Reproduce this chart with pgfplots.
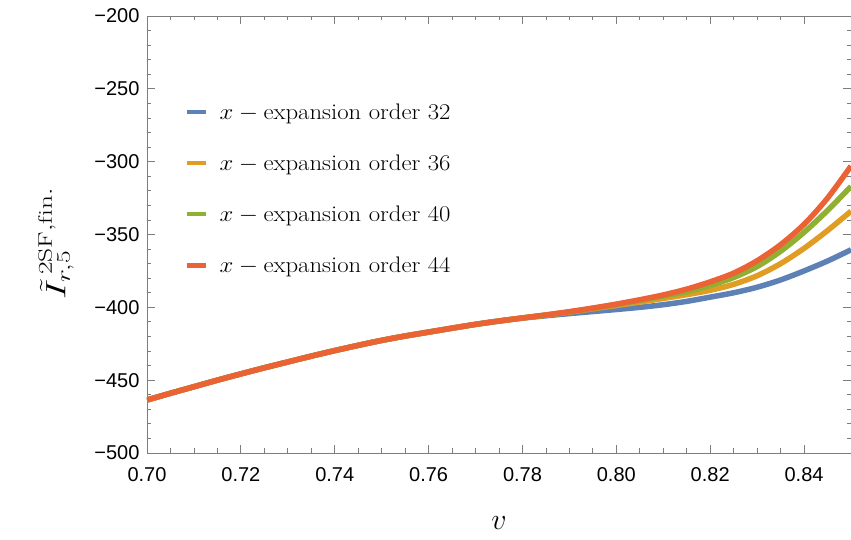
\RequirePackage{fix-cm}
\documentclass[border=0pt]{standalone}
\usepackage{graphicx}
\usepackage{fontspec}
\usepackage{pgfplots}
\usepackage{pgfplotstable}
\pgfplotsset{compat=1.18}
\newfontfamily\tickfont{Liberation Sans}
\definecolor{c1}{RGB}{94,129,181}
\definecolor{c2}{RGB}{225,156,36}
\definecolor{c3}{RGB}{143,176,50}
\definecolor{c4}{RGB}{235,98,53}
\definecolor{framegray}{RGB}{125,125,125}
\newcommand\legtxt[1]{\scalebox{1.1}[1]{$x - \mathrm{expansion\ order\ #1}$}}

\pgfplotstableread{
v y
0.700 -463.6
0.705 -459.0
0.710 -454.5
0.715 -450.0
0.720 -445.7
0.725 -441.5
0.730 -437.5
0.735 -433.5
0.740 -429.7
0.745 -426.1
0.750 -422.7
0.755 -419.7
0.760 -417.0
0.765 -414.3
0.770 -411.7
0.775 -409.4
0.780 -407.4
0.785 -405.8
0.790 -404.3
0.795 -402.9
0.800 -401.5
0.805 -400.0
0.810 -398.2
0.815 -395.9
0.820 -393.0
0.825 -390.0
0.830 -386.2
0.835 -381.2
0.840 -375.0
0.845 -368.2
0.850 -360.5
}\dataA

\pgfplotstableread{
v y
0.700 -463.6
0.705 -459.0
0.710 -454.5
0.715 -450.0
0.720 -445.7
0.725 -441.5
0.730 -437.5
0.735 -433.5
0.740 -429.7
0.745 -426.1
0.750 -422.7
0.755 -419.7
0.760 -417.0
0.765 -414.3
0.770 -411.7
0.775 -409.4
0.780 -407.3
0.785 -405.4
0.790 -403.3
0.795 -401.0
0.800 -398.7
0.805 -396.4
0.810 -393.9
0.815 -391.3
0.820 -388.3
0.825 -384.2
0.830 -378.3
0.835 -370.0
0.840 -359.5
0.845 -347.3
0.850 -334.0
}\dataB

\pgfplotstableread{
v y
0.700 -463.6
0.705 -459.0
0.710 -454.5
0.715 -450.0
0.720 -445.7
0.725 -441.5
0.730 -437.5
0.735 -433.5
0.740 -429.7
0.745 -426.1
0.750 -422.7
0.755 -419.7
0.760 -417.0
0.765 -414.3
0.770 -411.7
0.775 -409.4
0.780 -407.3
0.785 -405.3
0.790 -403.1
0.795 -400.7
0.800 -398.1
0.805 -395.3
0.810 -392.3
0.815 -389.3
0.820 -385.0
0.825 -379.5
0.830 -372.0
0.835 -361.5
0.840 -348.5
0.845 -333.5
0.850 -317.0
}\dataC

\pgfplotstableread{
v y
0.700 -463.6
0.705 -459.0
0.710 -454.5
0.715 -450.0
0.720 -445.7
0.725 -441.5
0.730 -437.5
0.735 -433.5
0.740 -429.7
0.745 -426.1
0.750 -422.7
0.755 -419.7
0.760 -417.0
0.765 -414.3
0.770 -411.7
0.775 -409.4
0.780 -407.3
0.785 -405.2
0.790 -403.0
0.795 -400.5
0.800 -397.8
0.805 -394.8
0.810 -391.5
0.815 -387.5
0.820 -382.5
0.825 -376.5
0.830 -368.0
0.835 -357.0
0.840 -343.0
0.845 -325.0
0.850 -303.0
}\dataD

\begin{document}
\begin{tikzpicture}
\begin{axis}[
  scale only axis,
  width=704pt, height=437pt,
  xmin=0.70, xmax=0.85, ymin=-500, ymax=-200,
  xtick={0.70,0.72,0.74,0.76,0.78,0.80,0.82,0.84},
  xticklabels={0.70,0.72,0.74,0.76,0.78,0.80,0.82,0.84},
  ytick={-500,-450,-400,-350,-300,-250,-200},
  yticklabels={−500,−450,−400,−350,−300,−250,−200},
  minor x tick num=3,
  minor y tick num=4,
  tick align=inside,
  major tick length=8pt,
  minor tick length=4.5pt,
  axis line style={framegray, line width=0.8pt},
  every tick/.style={framegray, line width=0.8pt},
  ticklabel style={font=\tickfont\fontsize{20}{24}\selectfont, text=black},
  xticklabel style={yshift=-11pt},
  yticklabel style={xshift=-4pt},
  xlabel={$v$},
  xlabel style={font=\fontsize{30}{34}\selectfont, at={(axis description cs:0.5,0)}, anchor=center, yshift=-70pt},
  ylabel={\scalebox{1.4}[1]{$\tilde{I}^{\,\mathrm{2SF},\mathrm{fin.}}_{r,5}$}},
  ylabel style={font=\fontsize{28}{32}\selectfont, at={(axis description cs:0,0.5)}, anchor=center, yshift=91pt, xshift=-9pt},
  legend style={draw=none, fill=none, at={(axis description cs:0.053,0.805)}, anchor=north west,
    font=\fontsize{22.5}{27}\selectfont, row sep=30pt, inner sep=0pt},
  legend cell align=left,
  legend image code/.code={\draw[#1, line width=4.5pt] (0pt,0pt) -- (19pt,0pt); \path (28pt,0pt);},
  clip=true,
]
\addplot[c1, line width=5.5pt, smooth, line join=round] table[x=v,y=y] {\dataA};
\addlegendentry{\legtxt{32}}
\addplot[c2, line width=5.5pt, smooth, line join=round] table[x=v,y=y] {\dataB};
\addlegendentry{\legtxt{36}}
\addplot[c3, line width=5.5pt, smooth, line join=round] table[x=v,y=y] {\dataC};
\addlegendentry{\legtxt{40}}
\addplot[c4, line width=5.5pt, smooth, line join=round] table[x=v,y=y] {\dataD};
\addlegendentry{\legtxt{44}}
\coordinate (SW) at (rel axis cs:0,0);
\coordinate (NE) at (rel axis cs:1,1);
\end{axis}
\pgfresetboundingbox
\path[use as bounding box] ([xshift=-147pt,yshift=-87pt]SW) rectangle ([yshift=16pt]NE);
\end{tikzpicture}
\end{document}
